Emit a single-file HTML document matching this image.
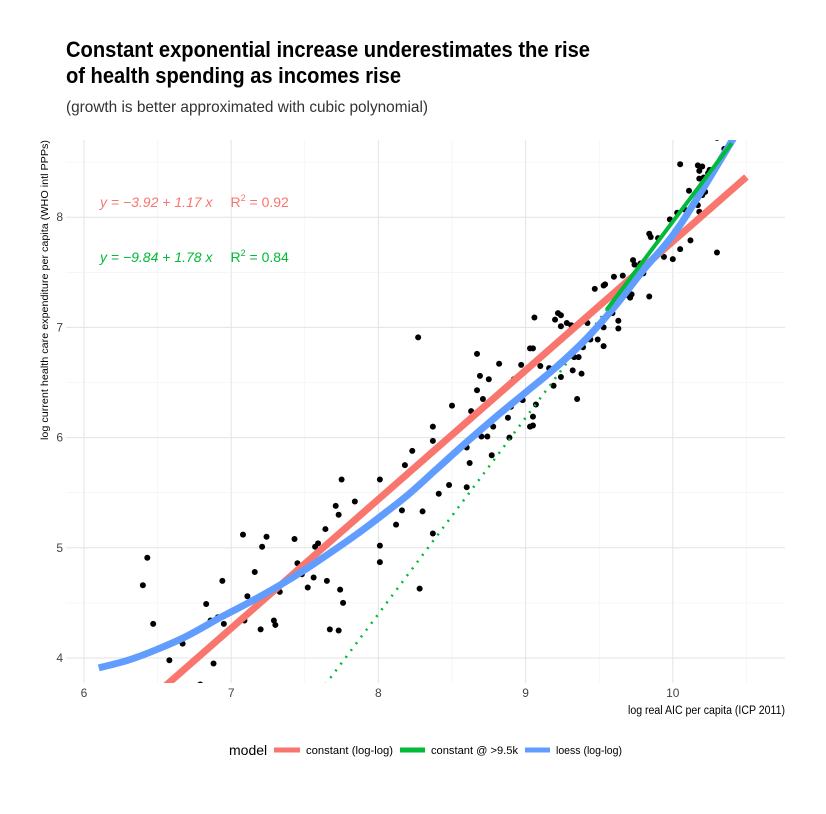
<!DOCTYPE html>
<html><head><meta charset="utf-8"><style>
body{margin:0;background:#fff}
svg text{font-family:"Liberation Sans",sans-serif}
</style></head><body>
<svg id="chart" width="826" height="809" xmlns="http://www.w3.org/2000/svg">
<rect width="826" height="809" fill="#fff"/>
<text x="66" y="57" font-size="22" font-weight="bold" fill="#000" textLength="524" lengthAdjust="spacingAndGlyphs">Constant exponential increase underestimates the rise</text>
<text x="66" y="83" font-size="22" font-weight="bold" fill="#000" textLength="335" lengthAdjust="spacingAndGlyphs">of health spending as incomes rise</text>
<text x="66" y="112" font-size="16" fill="#333" textLength="362" lengthAdjust="spacingAndGlyphs">(growth is better approximated with cubic polynomial)</text>
<g id="grid"></g>
<defs><clipPath id="panel"><rect x="66" y="140" width="719" height="543"/></clipPath></defs>
<g id="marks" clip-path="url(#panel)"></g>
<g id="axes"></g>
<text x="100" y="207" font-size="14" fill="#F8766D" font-style="italic">y = −3.92 + 1.17 x<tspan font-style="normal" dx="18">R</tspan><tspan font-size="9" dy="-6" font-style="normal">2</tspan><tspan dy="6" font-style="normal"> = 0.92</tspan></text>
<text x="100" y="262" font-size="14" fill="#00BA38" font-style="italic">y = −9.84 + 1.78 x<tspan font-style="normal" dx="18">R</tspan><tspan font-size="9" dy="-6" font-style="normal">2</tspan><tspan dy="6" font-style="normal"> = 0.84</tspan></text>
<text transform="translate(48,290) rotate(-90)" text-anchor="middle" font-size="10.5" fill="#000" textLength="300" lengthAdjust="spacingAndGlyphs">log current health care expenditure per capita (WHO intl PPPs)</text>
<text x="785" y="714" text-anchor="end" font-size="11.5" fill="#000" textLength="157" lengthAdjust="spacingAndGlyphs">log real AIC per capita (ICP 2011)</text>
<g>
<text x="229" y="755" font-size="14" fill="#000">model</text>
<g><line x1="274" y1="750" x2="300" y2="750" stroke="#F8766D" stroke-width="5"/><text x="306" y="754" font-size="11" fill="#000" textLength="87" lengthAdjust="spacingAndGlyphs">constant (log-log)</text></g>
<g><line x1="400" y1="750" x2="425" y2="750" stroke="#00BA38" stroke-width="5"/><text x="431" y="754" font-size="11" fill="#000" textLength="87" lengthAdjust="spacingAndGlyphs">constant @ &gt;9.5k</text></g>
<g><line x1="525" y1="750" x2="550" y2="750" stroke="#619CFF" stroke-width="5"/><text x="556" y="754" font-size="11" fill="#000" textLength="66" lengthAdjust="spacingAndGlyphs">loess (log-log)</text></g>
</g>
</svg>
<script>
const ptX=[8.37,8.37,8.23,8.18,7.75,8.01,7.84,7.71,7.73,8.41,8.16,8.30,7.64,8.12,8.37,7.08,7.24,7.43,7.21,7.59,7.57,8.01,6.43,8.01,7.45,7.16,7.48,7.56,6.40,6.94,7.65,7.52,7.33,7.74,8.28,7.11,7.76,6.83,6.86,6.91,6.95,7.09,7.29,7.30,7.20,6.47,7.67,7.73,6.67,6.58,6.88,6.79,
8.27,8.50,8.67,8.82,8.69,8.75,8.67,8.71,8.63,8.60,8.62,8.70,8.74,8.78,8.88,8.89,8.77,8.90,8.92,8.97,8.98,9.03,9.05,9.10,9.16,9.07,9.05,9.05,9.03,9.06,9.20,9.22,9.24,9.24,9.28,9.31,9.19,9.24,9.32,9.33,9.36,9.38,9.35,9.39,9.44,9.49,9.42,9.53,9.53,9.59,9.63,9.63,9.47,9.53,9.70,8.48,8.60,
10.30,10.35,10.05,10.17,10.20,10.18,10.24,10.25,10.18,10.21,10.11,10.22,10.20,10.17,10.03,10.18,9.98,10.08,10.12,10.05,10.30,9.84,9.85,9.90,9.94,10.00,9.73,9.74,9.78,9.80,9.66,9.60,9.72,9.71,9.84,9.67,9.54];
const ptY=[6.10,5.97,5.88,5.75,5.62,5.62,5.42,5.38,5.30,5.49,5.34,5.33,5.17,5.21,5.13,5.12,5.10,5.08,5.01,5.04,5.01,5.02,4.91,4.87,4.86,4.78,4.76,4.73,4.66,4.70,4.70,4.64,4.60,4.62,4.63,4.56,4.50,4.49,4.34,4.37,4.31,4.34,4.34,4.30,4.26,4.31,4.26,4.25,4.13,3.98,3.95,3.76,
6.91,6.29,6.76,6.67,6.56,6.53,6.43,6.35,6.24,5.91,5.77,6.01,6.01,6.10,6.18,6.00,5.84,6.28,6.53,6.66,6.34,6.81,6.81,6.65,6.63,6.30,6.19,6.11,6.10,7.09,7.07,7.13,7.11,7.01,7.04,7.02,6.47,6.55,6.61,6.73,6.73,6.58,6.35,6.82,6.89,6.89,7.04,6.83,7.00,7.13,7.06,6.99,7.35,7.38,7.29,5.57,5.55,
8.72,8.62,8.48,8.47,8.46,8.42,8.40,8.43,8.35,8.36,8.24,8.23,8.20,8.11,8.04,8.05,7.98,8.07,7.79,7.71,7.68,7.85,7.82,7.81,7.64,7.62,7.61,7.57,7.58,7.49,7.47,7.46,7.30,7.27,7.28,7.30,7.39];
const loessX=[6.1,6.3,6.5,6.7,6.93,7.13,7.33,7.5,7.7,7.85,8.0,8.2,8.4,8.6,8.8,9.0,9.2,9.4,9.6,9.8,10.05,10.45];
const loessY=[3.91,3.98,4.08,4.2,4.37,4.51,4.66,4.80,4.98,5.12,5.27,5.48,5.72,5.96,6.19,6.41,6.63,6.88,7.18,7.52,7.93,8.8];
const constCoef=[-3.92,1.17];
const highCoef=[-9.84,1.78];
const constRange=[6.5,10.5];
const highDotRange=[7.5,9.55];
const highSolidRange=[9.55,10.4];
const xTicks=[6,7,8,9,10];
const yTicks=[4,5,6,7,8];

const NS="http://www.w3.org/2000/svg";
const sx=v=>84+(v-6)*147.2;
const sy=v=>658-(v-4)*110.2;
function mk(tag,attrs,parent){const e=document.createElementNS(NS,tag);for(const k in attrs)e.setAttribute(k,attrs[k]);parent.appendChild(e);return e;}
const grid=document.getElementById('grid'),marks=document.getElementById('marks'),axes=document.getElementById('axes');
for(let v=5.5;v<=11;v+=0.5){const x=sx(v);if(x<66||x>785)continue;const major=Number.isInteger(v);
const l=mk('line',{x1:x,x2:x,y1:140,y2:683,stroke:major?'#e3e3e3':'#f0f0f0','stroke-width':major?1:0.6},grid);

}
for(let v=3.5;v<=9;v+=0.5){const y=sy(v);if(y<140||y>683)continue;const major=Number.isInteger(v);
const l=mk('line',{x1:66,x2:785,y1:y,y2:y,stroke:major?'#e3e3e3':'#f0f0f0','stroke-width':major?1:0.6},grid);

}
xTicks.forEach(t=>{const e=mk('text',{x:sx(t),y:697,'text-anchor':'middle','font-size':12,fill:'#444'},axes);e.textContent=t;

});
yTicks.forEach(t=>{const e=mk('text',{x:63,y:sy(t)+4,'text-anchor':'end','font-size':12,fill:'#444'},axes);e.textContent=t;

});
ptX.forEach((x,i)=>{const c=mk('circle',{cx:sx(x),cy:sy(ptY[i]),r:3,fill:'#000'},marks);

});
function linePath(coef,r){return 'M'+sx(r[0])+','+sy(coef[0]+coef[1]*r[0])+'L'+sx(r[1])+','+sy(coef[0]+coef[1]*r[1]);}
const red=mk('path',{d:linePath(constCoef,constRange),stroke:'#F8766D','stroke-width':7,fill:'none'},marks);


const gd=mk('path',{d:linePath(highCoef,highDotRange),stroke:'#00BA38','stroke-width':2.5,fill:'none','stroke-dasharray':'2 6.5'},marks);


const gs=mk('path',{d:linePath(highCoef,highSolidRange),stroke:'#00BA38','stroke-width':4,fill:'none'},marks);


const P=loessX.map((x,i)=>[sx(x),sy(loessY[i])]);
let d='M'+P[0][0]+','+P[0][1];
for(let i=0;i<P.length-1;i++){const p0=P[Math.max(0,i-1)],p1=P[i],p2=P[i+1],p3=P[Math.min(P.length-1,i+2)];
const c1=[p1[0]+(p2[0]-p0[0])/6,p1[1]+(p2[1]-p0[1])/6],c2=[p2[0]-(p3[0]-p1[0])/6,p2[1]-(p3[1]-p1[1])/6];
d+='C'+c1[0]+','+c1[1]+' '+c2[0]+','+c2[1]+' '+p2[0]+','+p2[1];}
const bl=mk('path',{d:d,stroke:'#619CFF','stroke-width':7,fill:'none','stroke-linejoin':'round'},marks);


marks.appendChild(gs);
</script>
</body></html>
